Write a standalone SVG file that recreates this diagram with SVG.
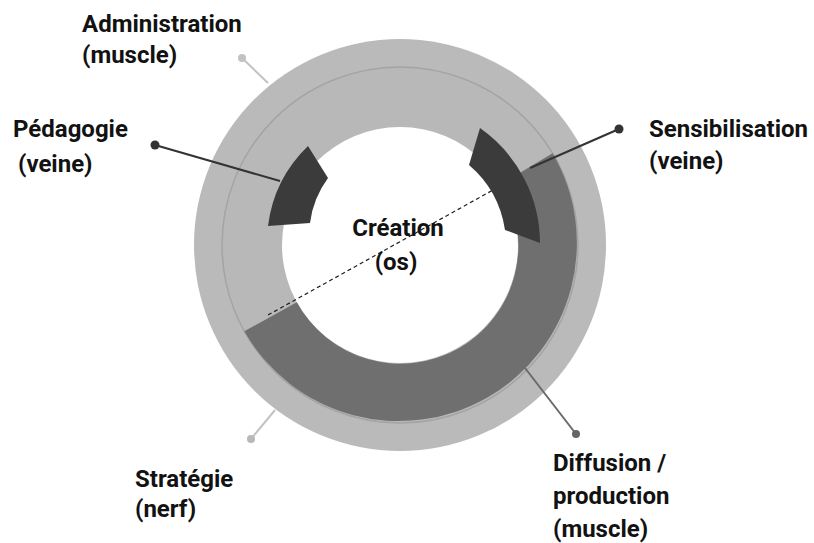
<svg xmlns="http://www.w3.org/2000/svg" width="814" height="543" viewBox="0 0 814 543">
  <style>
    .lbl { font-family: Roboto, "Liberation Sans", sans-serif; font-weight: 700; font-size: 24px; fill: #121212; }
    .ctr { text-anchor: middle; }
    .dark { stroke: #333333; stroke-width: 2; fill: none; }
    .mid { stroke: #6a6a6a; stroke-width: 2; fill: none; }
    .light { stroke: #c2c2c2; stroke-width: 2; fill: none; }
    .block { fill: #3b3b3b; }
  </style>
  <rect width="814" height="543" fill="#ffffff"/>

  <g id="ring">
    <circle cx="400" cy="245" r="206" fill="#bababa"/>
    <circle cx="400" cy="245" r="178" fill="#b8b8b8" stroke="#a4a4a4" stroke-width="1.5"/>
    <circle cx="400" cy="245" r="118" fill="#ffffff"/>
  </g>

  <g id="diffusion-arc">
    <path d="M 552.6,153.3 A 178 178 0 1 1 244.3,331.3 L 296.8,302.2 A 118 118 0 1 0 501.1,184.2 Z" fill="#6f6f6f"/>
  </g>

  <g id="connectors">
    <line x1="268" y1="315" x2="493" y2="190" stroke="#1e1e1e" stroke-width="1.2" stroke-dasharray="4 3"/>
    <line class="light" x1="242" y1="58" x2="268" y2="83"/>
    <circle cx="242" cy="58" r="4" fill="#c2c2c2"/>
    <line class="light" x1="251" y1="439" x2="275" y2="410"/>
    <circle cx="251" cy="439" r="4" fill="#b8b8b8"/>
    <line class="mid" x1="576" y1="434" x2="525" y2="368"/>
    <circle cx="576" cy="434" r="4" fill="#666666"/>
  </g>

  <g id="pedagogie-block">
    <path class="block" d="M 308,146 A 134 134 0 0 0 268,226 L 310,223 A 96 96 0 0 1 328,178 Z"/>
  </g>
  <g id="sensibilisation-block">
    <path class="block" d="M 480,128 A 141 141 0 0 1 540,243 L 505,230 A 106 106 0 0 0 469,165 Z"/>
  </g>

  <g id="connectors-dark">
    <line class="dark" x1="155" y1="145" x2="280" y2="181"/>
    <circle cx="155" cy="145" r="4.5" fill="#333333"/>
    <line class="dark" x1="619" y1="129" x2="530" y2="168"/>
    <circle cx="619" cy="129" r="4.5" fill="#333333"/>
  </g>

  <g id="administration">
    <text class="lbl" x="82" y="32">Administration</text>
    <text class="lbl" x="82" y="63">(muscle)</text>
  </g>
  <g id="pedagogie">
    <text class="lbl" x="13" y="137">Pédagogie</text>
    <text class="lbl" x="18" y="172">(veine)</text>
  </g>
  <g id="sensibilisation">
    <text class="lbl" x="649" y="137">Sensibilisation</text>
    <text class="lbl" x="649" y="169">(veine)</text>
  </g>
  <g id="creation">
    <text class="lbl ctr" x="398" y="236">Création</text>
    <text class="lbl ctr" x="396" y="270">(os)</text>
  </g>
  <g id="strategie">
    <text class="lbl" x="135" y="487">Stratégie</text>
    <text class="lbl" x="135" y="517">(nerf)</text>
  </g>
  <g id="diffusion">
    <text class="lbl" x="553" y="471">Diffusion /</text>
    <text class="lbl" x="553" y="504">production</text>
    <text class="lbl" x="553" y="537">(muscle)</text>
  </g>
</svg>
